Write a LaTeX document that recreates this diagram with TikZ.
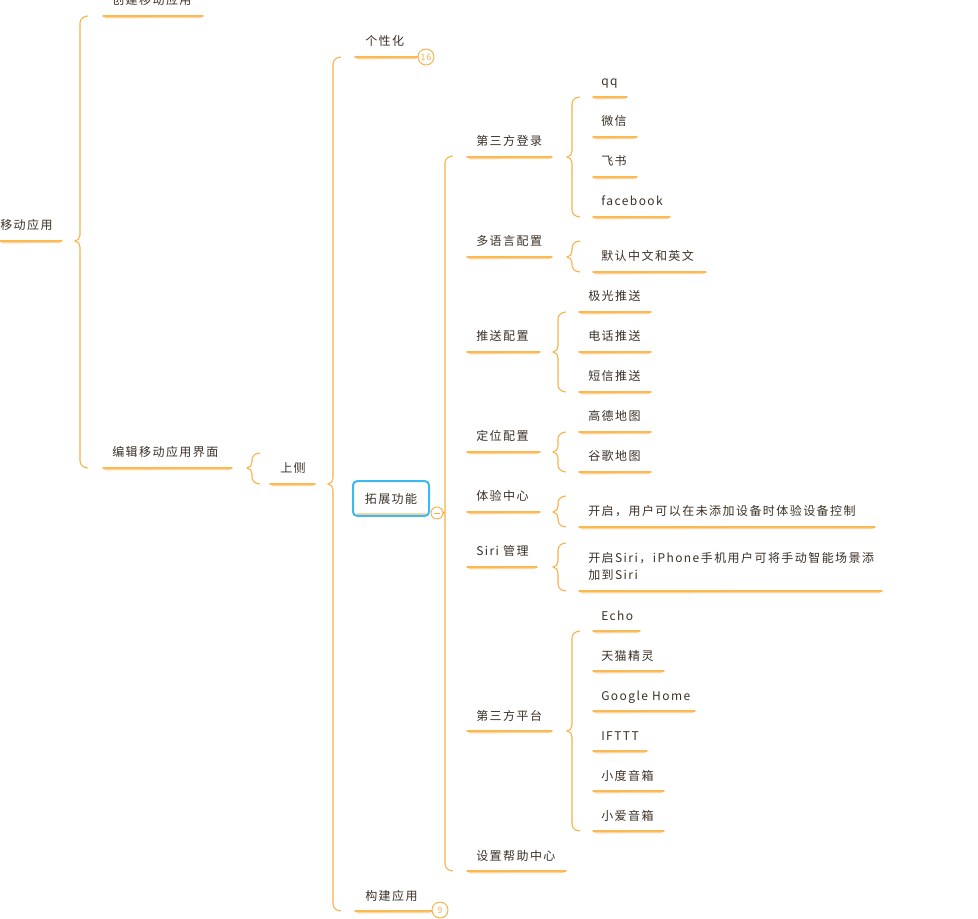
\documentclass[tikz,border=0pt]{standalone}
\usepackage{fontspec}
\setmainfont{Noto Sans CJK SC}[LetterSpace=12]
\definecolor{brc}{HTML}{F9B046}
\definecolor{ulA}{HTML}{FBB953}
\definecolor{ulB}{HTML}{FDD59A}
\definecolor{txtc}{HTML}{3B3026}
\definecolor{boxc}{HTML}{3DB9F2}
\tikzset{
  txt/.style={anchor=base west,inner sep=0pt,text=txtc,font=\fontsize{9}{13.5}\selectfont},
  ulinea/.style={draw=ulA,line width=1.1pt,line cap=round},
  ulineb/.style={draw=ulB,line width=0.9pt,line cap=round},
  brcline/.style={draw=brc,line width=0.8pt},
  badge/.style={circle,draw=brc,fill=white,line width=0.7pt,inner sep=0pt,minimum size=12pt,text=brc,font=\fontsize{6.5}{7}\selectfont}
}
\newcommand\topic[6]{%
  \node[txt] (#1) at (#2,#3-11) {#6};
  \draw[ulinea] (#4,#3) -- (#5,#3);
  \draw[ulineb] (#4+2,#3+1.8) -- (#5-2,#3+1.4);}
\newcommand\mybrace[4]{%
  \draw[brcline] (#1+8,#2) to[out=180,in=90] (#1,#2+7) -- (#1,#4-6)
    to[out=-90,in=0] (#1-5,#4) to[out=0,in=90] (#1,#4+6) -- (#1,#3-7)
    to[out=-90,in=180] (#1+8,#3);}
\begin{document}
\begin{tikzpicture}[x=0.75pt,y=-0.75pt]
\useasboundingbox (0,0) rectangle (978,919);
% level 0/1
\topic{root}{0}{241}{0}{62}{移动应用}
\topic{create}{112}{16}{103}{203}{创建移动应用}
\topic{edit}{112}{468}{103}{232}{编辑移动应用界面}
\topic{top}{280}{484}{270}{315}{上侧}
\topic{pers}{365}{57}{355}{418}{个性化}
\topic{build}{365}{911}{355}{432}{构建应用}
\node[badge] (b16) at (426,57) {16};
\node[badge] (b9) at (440,910) {9};
\mybrace{80}{16}{468}{241}
\mybrace{252}{453}{484}{468}
\mybrace{333}{57}{911}{484}
% extension box
\draw[ulB,line width=0.8pt] (357,514) -- (426,514);
\node[draw=boxc,line width=1.5pt,rounded corners=3pt,minimum width=57pt,minimum height=26pt,inner sep=0pt,text=txtc,font=\fontsize{9}{13.5}\selectfont] (ext) at (391,498.5) {拓展功能};
% children bracket of ext
\draw[brcline] (453,156) to[out=180,in=90] (445,163) -- (445,864) to[out=-90,in=180] (453,871);
\node[circle,draw=brc,fill=white,line width=0.7pt,minimum size=9pt,inner sep=0pt] (col) at (437,513) {};
\draw[brc,line width=0.7pt] (col.center) ++(-3,0) -- ++(6,0);
\draw[brcline] (col.east) -- (445,513);
% children
\topic{login}{476}{157}{467}{552}{第三方登录}
\topic{lang}{476}{257}{467}{552}{多语言配置}
\topic{push}{476}{352}{467}{540}{推送配置}
\topic{loc}{476}{452}{467}{540}{定位配置}
\topic{exp}{476}{512}{467}{540}{体验中心}
\topic{siri}{476}{567}{467}{537}{Siri 管理}
\topic{plat}{476}{731}{467}{552}{第三方平台}
\topic{help}{476}{871}{467}{566}{设置帮助中心}
% grandchildren
\mybrace{572}{97}{217}{157}
\topic{qq}{601}{97}{593}{627}{qq}
\topic{wx}{601}{137}{593}{637}{微信}
\topic{fs}{601}{177}{593}{637}{飞书}
\topic{fb}{601}{217}{593}{670}{facebook}
\mybrace{572}{241}{272}{257}
\topic{zh}{601}{272}{593}{706}{默认中文和英文}
\mybrace{558}{312}{392}{352}
\topic{jg}{588}{312}{579}{651}{极光推送}
\topic{dh}{588}{352}{579}{651}{电话推送}
\topic{dx}{588}{392}{579}{651}{短信推送}
\mybrace{558}{432}{472}{452}
\topic{gd}{588}{432}{579}{651}{高德地图}
\topic{gg}{588}{472}{579}{651}{谷歌地图}
\mybrace{558}{496}{527}{512}
\topic{expd}{588}{527}{579}{875}{开启，用户可以在未添加设备时体验设备控制}
\mybrace{558}{543}{591}{567}
\node[txt,anchor=base west,align=left] (sirid) at (588,562) {开启Siri，iPhone手机用户可将手动智能场景添};
\node[txt,anchor=base west] (sirid2) at (588,580) {加到Siri};
\draw[ulinea] (579,591) -- (882,591);
\draw[ulineb] (581,592.8) -- (880,592.4);
\mybrace{572}{631}{831}{731}
\topic{echo}{601}{631}{593}{640}{Echo}
\topic{tm}{601}{671}{593}{664}{天猫精灵}
\topic{gh}{601}{711}{593}{695}{Google Home}
\topic{ifttt}{601}{751}{593}{647}{IFTTT}
\topic{xd}{601}{791}{593}{664}{小度音箱}
\topic{xa}{601}{831}{593}{664}{小爱音箱}
\end{tikzpicture}
\end{document}
